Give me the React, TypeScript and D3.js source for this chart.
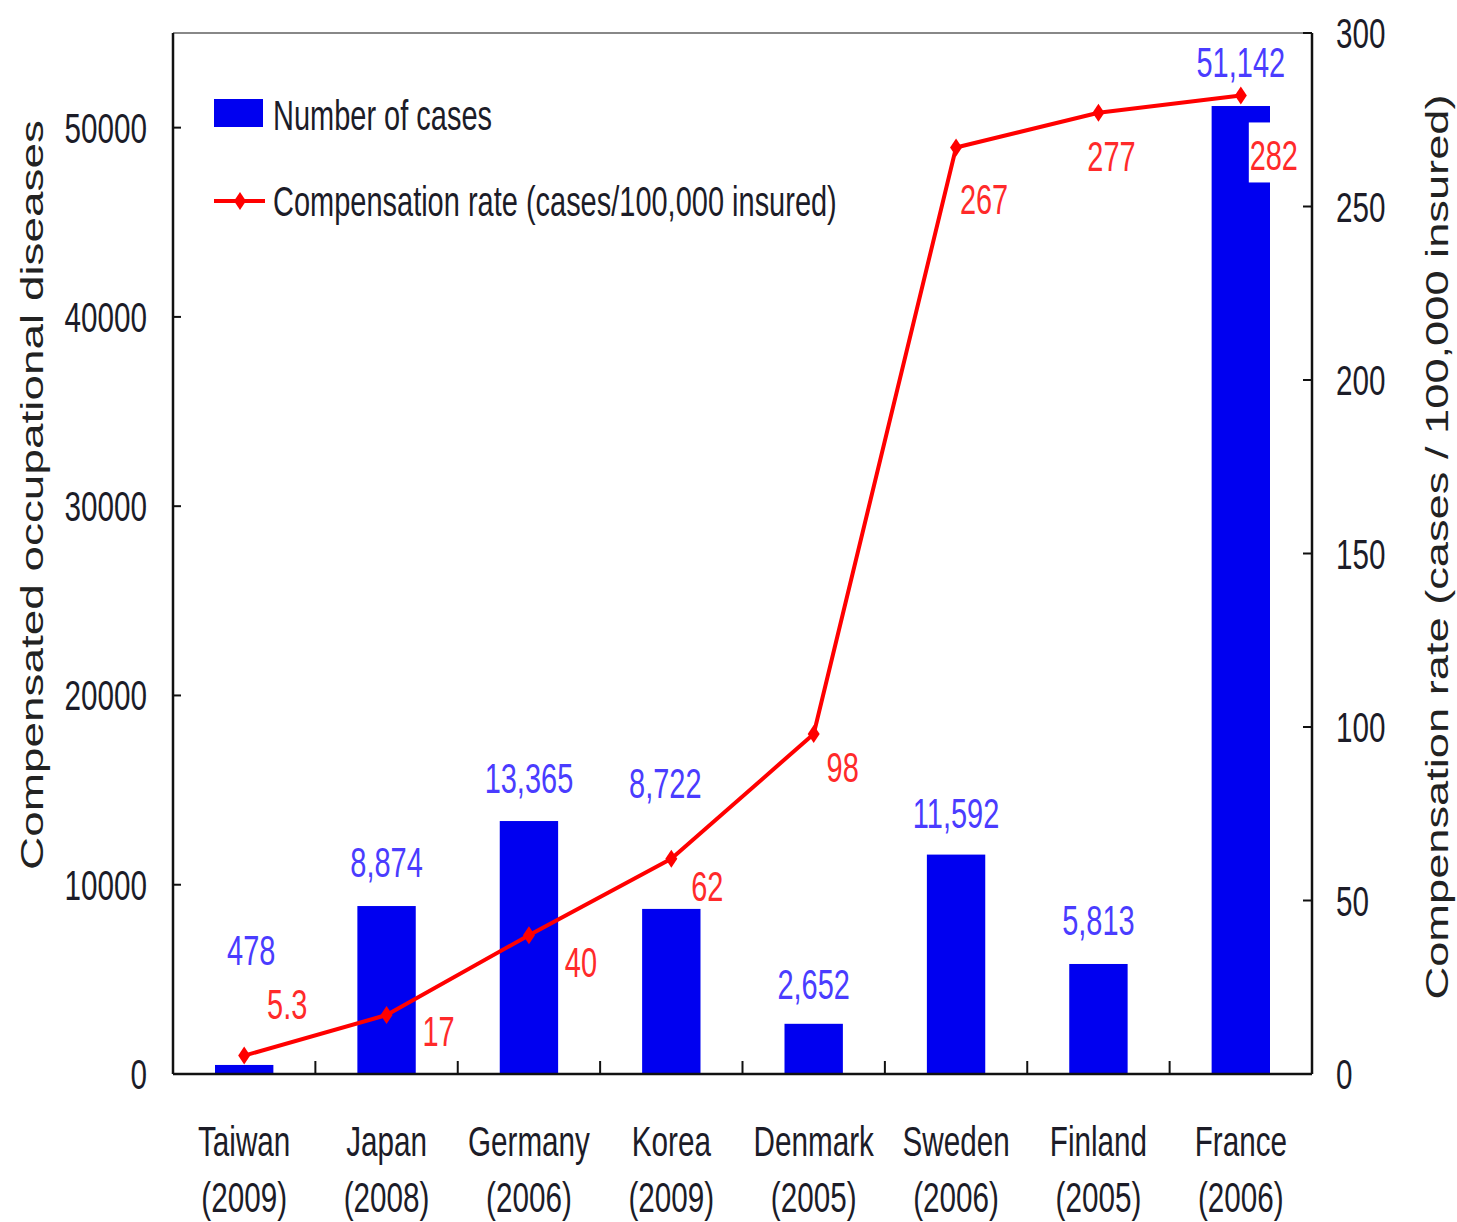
import React from 'react'
import * as d3 from 'd3'

// countries and year of data
const countries = ['Taiwan', 'Japan', 'Germany', 'Korea', 'Denmark', 'Sweden', 'Finland', 'France']
const years = ['(2009)', '(2008)', '(2006)', '(2009)', '(2005)', '(2006)', '(2005)', '(2006)']
const cases = [478, 8874, 13365, 8722, 2652, 11592, 5813, 51142]
const rates = [5.3, 17, 40, 62, 98, 267, 277, 282]
const rateText = ['5.3', '17', '40', '62', '98', '267', '277', '282']
const leftTicks = [0, 10000, 20000, 30000, 40000, 50000]
const rightTicks = [0, 50, 100, 150, 200, 250, 300]

// hand placed label offsets (as in the original figure)
const caseLabelOff = [[7, -100], [0, -29], [0, -28], [-6, -111], [0, -25], [0, -27], [0, -29], [0, -29]]
const rateLabelOff = [[43, -37], [52, 31], [52, 42], [36, 42], [29, 48], [28, 66], [13, 58], [33, 75]]

const W = 1457, H = 1222
const m = { left: 173, right: 1312, top: 33, bottom: 1074 }
const FONT = '"Liberation Sans", Arial, sans-serif'
const SQ = 0.69 // horizontal squeeze for the narrow labels
const BLUE = '#0000f0'
const RED = '#ff0000'

function Narrow({ x, y, size = 43, anchor = 'middle', fill = '#1c1c28', children }: any) {
  return (
    <g transform={`translate(${x},${y}) scale(${SQ},1)`}>
      <text textAnchor={anchor} fontSize={size} fontFamily={FONT} fill={fill}>{children}</text>
    </g>
  )
}

function Diamond({ x, y }: any) {
  return <path d={`M${x},${y - 9}L${x + 6},${y}L${x},${y + 9}L${x - 6},${y}Z`} fill={RED} />
}

export default function App() {
  const x = d3.scaleBand<string>().domain(countries).range([m.left, m.right]).padding(0)
  const yL = d3.scaleLinear().domain([0, 55000]).range([m.bottom, m.top])
  const yR = d3.scaleLinear().domain([0, 300]).range([m.bottom, m.top])
  const bw = x.bandwidth() * 0.41
  const cx = (c: string) => (x(c) as number) + x.bandwidth() / 2

  const line = d3.line<number>()
    .x((_, i) => cx(countries[i]))
    .y(d => yR(d))

  const fmt = d3.format(',')

  return (
    <svg width={W} height={H} style={{ position: 'absolute', left: 0, top: 0, background: '#fff' }}>
      {/* bars */}
      {cases.map((v, i) => (
        <rect key={'b' + i} x={cx(countries[i]) - bw / 2} y={yL(v)} width={bw} height={yL(0) - yL(v)} fill={BLUE} />
      ))}

      {/* frame */}
      <line x1={m.left} x2={m.right} y1={m.top} y2={m.top} stroke="#888" strokeWidth={2} />
      <line x1={m.left} x2={m.left} y1={m.top} y2={m.bottom} stroke="#111" strokeWidth={2.5} />
      <line x1={m.right} x2={m.right} y1={m.top} y2={m.bottom} stroke="#111" strokeWidth={2.5} />
      <line x1={m.left} x2={m.right} y1={m.bottom} y2={m.bottom} stroke="#111" strokeWidth={2.5} />

      {/* left axis */}
      {leftTicks.map(t => (
        <g key={'l' + t}>
          <line x1={m.left} x2={m.left + 8} y1={yL(t)} y2={yL(t)} stroke="#111" strokeWidth={2} />
          <Narrow x={147} y={yL(t) + 15} anchor="end">{t}</Narrow>
        </g>
      ))}
      {/* right axis */}
      {rightTicks.map(t => (
        <g key={'r' + t}>
          <line x1={m.right - 9} x2={m.right} y1={yR(t)} y2={yR(t)} stroke="#111" strokeWidth={2} />
          <Narrow x={1336} y={yR(t) + 15} anchor="start">{t}</Narrow>
        </g>
      ))}
      {/* bottom ticks between categories */}
      {countries.slice(1).map(c => (
        <line key={'t' + c} x1={x(c)} x2={x(c)} y1={m.bottom} y2={m.bottom - 13} stroke="#111" strokeWidth={2} />
      ))}
      {countries.map((c, i) => (
        <g key={'c' + c}>
          <Narrow x={cx(c)} y={1156}>{c}</Narrow>
          <Narrow x={cx(c)} y={1212}>{years[i]}</Narrow>
        </g>
      ))}

      {/* axis titles */}
      <text transform={`translate(43,${495}) rotate(-90)`} textAnchor="middle" fontSize={32} fontFamily={FONT}
        fill="#222" textLength={750} lengthAdjust="spacingAndGlyphs">Compensated occupational diseases</text>
      <text transform={`translate(1448,${547}) rotate(-90)`} textAnchor="middle" fontSize={32} fontFamily={FONT}
        fill="#222" textLength={905} lengthAdjust="spacingAndGlyphs">Compensation rate (cases / 100,000 insured)</text>

      {/* rate line */}
      <path d={line(rates) as string} fill="none" stroke={RED} strokeWidth={4} strokeLinejoin="round" />
      {rates.map((r, i) => <Diamond key={'d' + i} x={cx(countries[i])} y={yR(r)} />)}

      {/* value labels */}
      {cases.map((v, i) => (
        <Narrow key={'cl' + i} x={cx(countries[i]) + caseLabelOff[i][0]} y={yL(v) + caseLabelOff[i][1]} fill="#4a3cff" size={42}>
          {fmt(v)}
        </Narrow>
      ))}
      {rates.map((r, i) => {
        const lx = cx(countries[i]) + rateLabelOff[i][0]
        const ly = yR(r) + rateLabelOff[i][1]
        return (
          <g key={'rl' + i}>
            {i === rates.length - 1 && <rect x={lx - 25} y={ly - 48} width={50} height={60} fill="#fff" />}
            <Narrow x={lx} y={ly} fill="#ff2a2a" size={42}>{rateText[i]}</Narrow>
          </g>
        )
      })}

      {/* legend */}
      <rect x={214} y={99} width={49} height={28} fill={BLUE} />
      <Narrow x={273} y={130} anchor="start" size={42}>Number of cases</Narrow>
      <line x1={214} x2={265} y1={201} y2={201} stroke={RED} strokeWidth={4} />
      <Diamond x={240} y={201} />
      <Narrow x={273} y={216} anchor="start" size={42}>Compensation rate (cases/100,000 insured)</Narrow>
    </svg>
  )
}
